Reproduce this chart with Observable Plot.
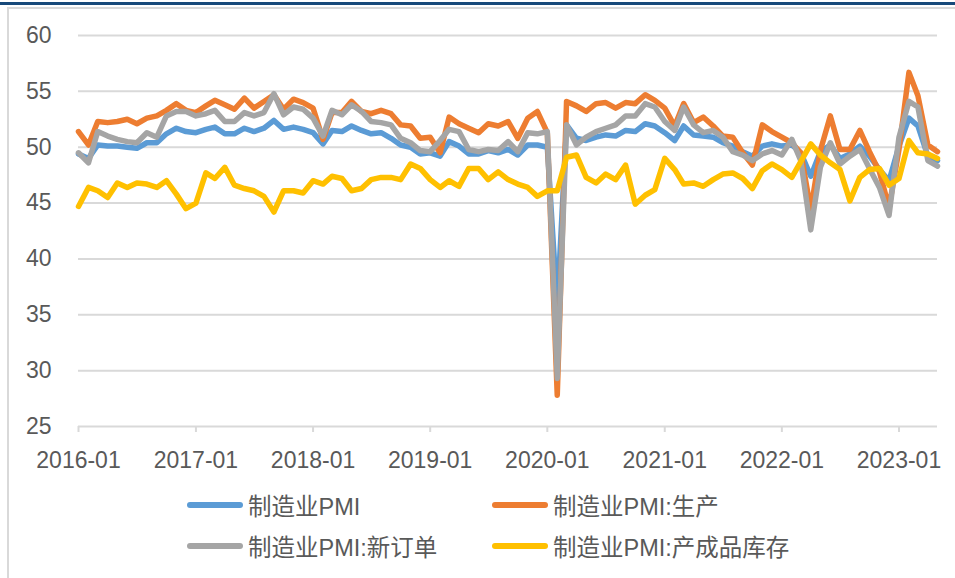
<!DOCTYPE html>
<html>
<head>
<meta charset="utf-8">
<script src="https://cdn.jsdelivr.net/npm/d3@7"></script>
<script src="https://cdn.jsdelivr.net/npm/@observablehq/plot@0.6"></script>
<style>
  html, body { margin: 0; padding: 0; background: #fff; }
  #wrap { position: relative; width: 955px; height: 578px; overflow: hidden; background: #fff;
          font-family: "Liberation Sans", Arial, "Noto Sans CJK SC", sans-serif; }
  #topbar { position: absolute; left: 0; top: 2px; width: 955px; height: 3px; background: #17497a; }
  #frame { position: absolute; left: 7px; top: 7px; width: 970px; height: 600px;
           border-left: 2px solid #d9d9d9; border-top: 2px solid #d9d9d9; }
  #chart { position: absolute; left: 0; top: 0; }
  .lg { position: absolute; display: flex; align-items: center; font-size: 23.5px; color: #595959;
        font-family: "Liberation Sans", Arial, "Noto Sans CJK SC", sans-serif; white-space: nowrap; }
  .sw { width: 56px; height: 6px; border-radius: 3px; margin-right: 5px; }
</style>
</head>
<body>
<div id="wrap">
  <div id="topbar"></div>
  <div id="frame"></div>
  <div id="chart"></div>
  <div id="legend"></div>
</div>
<script>
// Series names
const seriesNames = ["制造业PMI", "制造业PMI:生产", "制造业PMI:新订单", "制造业PMI:产成品库存"];
const seriesColors = ["#5b9bd5", "#ed7d31", "#a5a5a5", "#ffc000"];

// Monthly values, 2016-01 .. 2023-05
const pmi = [
  49.4, 49.0, 50.2, 50.1, 50.1, 50.0, 49.9, 50.4, 50.4, 51.2, 51.7, 51.4,
  51.3, 51.6, 51.8, 51.2, 51.2, 51.7, 51.4, 51.7, 52.4, 51.6, 51.8, 51.6,
  51.3, 50.3, 51.5, 51.4, 51.9, 51.5, 51.2, 51.3, 50.8, 50.2, 50.0, 49.4,
  49.5, 49.2, 50.5, 50.1, 49.4, 49.4, 49.7, 49.5, 49.8, 49.3, 50.2, 50.2,
  50.0, 35.7, 52.0, 50.8, 50.6, 50.9, 51.1, 51.0, 51.5, 51.4, 52.1, 51.9,
  51.3, 50.6, 51.9, 51.1, 51.0, 50.9, 50.4, 50.1, 49.6, 49.2, 50.1, 50.3,
  50.1, 50.2, 49.5, 47.4, 49.6, 50.2, 49.0, 49.4, 50.1, 49.2, 48.0, 47.0,
  50.1, 52.6, 51.9, 49.2, 48.8
];
const production = [
  51.4, 50.2, 52.3, 52.2, 52.3, 52.5, 52.1, 52.6, 52.8, 53.3, 53.9, 53.3,
  53.1, 53.7, 54.2, 53.8, 53.4, 54.4, 53.5, 54.1, 54.7, 53.4, 54.3, 54.0,
  53.5, 50.7, 53.1, 53.1, 54.1, 53.2, 53.0, 53.3, 53.0, 52.0, 51.9, 50.8,
  50.9, 49.5, 52.7, 52.1, 51.7, 51.3, 52.1, 51.9, 52.3, 50.8, 52.6, 53.2,
  51.3, 27.8, 54.1, 53.7, 53.2, 53.9, 54.0, 53.5, 54.0, 53.9, 54.7, 54.2,
  53.5, 51.9, 53.9, 52.2, 52.7, 51.9, 51.0, 50.9, 49.5, 48.4, 52.0, 51.4,
  50.9, 50.4, 49.5, 44.4, 49.7, 52.8, 49.8, 49.8, 51.5, 49.6, 47.8, 44.6,
  49.8, 56.7, 54.6, 50.2, 49.6
];
const newOrders = [
  49.5, 48.6, 51.4, 51.0, 50.7, 50.5, 50.4, 51.3, 50.9, 52.8, 53.2, 53.2,
  52.8, 53.0, 53.3, 52.3, 52.3, 53.1, 52.8, 53.1, 54.8, 52.9, 53.6, 53.4,
  52.6, 51.0, 53.3, 52.9, 53.8, 53.2, 52.3, 52.2, 52.0, 50.8, 50.4, 49.7,
  49.6, 50.6, 51.6, 51.4, 49.8, 49.6, 49.8, 49.7, 50.5, 49.6, 51.3, 51.2,
  51.4, 29.3, 52.0, 50.2, 50.9, 51.4, 51.7, 52.0, 52.8, 52.8, 53.9, 53.6,
  52.3, 51.5, 53.6, 52.0, 51.3, 51.5, 50.9, 49.6, 49.3, 48.8, 49.4, 49.7,
  49.3, 50.7, 48.8, 42.6, 48.2, 50.4, 48.5, 49.2, 49.8, 48.1, 46.4, 43.9,
  50.9, 54.1, 53.6, 48.8, 48.3
];
const inventory = [
  44.7, 46.4, 46.1, 45.5, 46.8, 46.4, 46.8, 46.7, 46.4, 47.0, 45.8, 44.5,
  45.0, 47.7, 47.2, 48.2, 46.6, 46.3, 46.1, 45.6, 44.2, 46.1, 46.1, 45.9,
  47.0, 46.7, 47.4, 47.2, 46.1, 46.3, 47.1, 47.3, 47.3, 47.1, 48.5, 48.1,
  47.1, 46.4, 47.0, 46.5, 48.1, 48.1, 47.1, 47.8, 47.1, 46.7, 46.4, 45.6,
  46.1, 46.1, 49.1, 49.3, 47.3, 46.8, 47.6, 47.1, 48.4, 44.9, 45.7, 46.2,
  49.0, 48.0, 46.7, 46.8, 46.5, 47.1, 47.6, 47.7, 47.2, 46.3, 47.9, 48.5,
  48.0, 47.3, 48.7, 50.3, 49.3, 48.6, 48.0, 45.2, 47.3, 48.0, 48.1, 46.6,
  47.2, 50.6, 49.5, 49.4, 49.0
];

// Axis ticks
const yTicks = [25, 30, 35, 40, 45, 50, 55, 60];
const xTickLabels = ["2016-01", "2017-01", "2018-01", "2019-01", "2020-01", "2021-01", "2022-01", "2023-01"];

const start = new Date(Date.UTC(2016, 0, 1));
const months = d3.utcMonth.range(start, d3.utcMonth.offset(start, pmi.length));
const xTicks = xTickLabels.map(s => new Date(s + "-01T00:00:00Z"));
const allSeries = [pmi, production, newOrders, inventory];
const rows = allSeries.map(vals => vals.map((v, i) => ({date: months[i], value: v})));

const chart = Plot.plot({
  width: 955,
  height: 480,
  marginLeft: 78,
  marginRight: 18,
  marginTop: 35,
  marginBottom: 54,
  style: {fontSize: "23px", fontFamily: "'Liberation Sans', Arial, sans-serif", color: "#595959", background: "transparent", overflow: "visible"},
  x: {type: "utc", domain: [months[0], months[months.length - 1]]},
  y: {domain: [25, 60]},
  marks: [
    Plot.gridY(yTicks, {stroke: "#d9d9d9", strokeWidth: 2, strokeOpacity: 1}),
    Plot.axisY(yTicks, {tickSize: 0, tickPadding: 27, fill: "#595959", label: null, tickFormat: d => String(d)}),
    Plot.axisX(xTicks, {tickSize: 6, tickPadding: 19, stroke: "#d9d9d9", strokeWidth: 2, fill: "#595959", label: null, tickFormat: d3.utcFormat("%Y-%m")}),
    ...rows.map((r, k) => Plot.line(r, {x: "date", y: "value", stroke: seriesColors[k], strokeWidth: 5.5, strokeLinejoin: "round", strokeLinecap: "round"}))
  ]
});
document.getElementById("chart").appendChild(chart);

// Legend
const legendPos = [[187, 506], [492, 506], [187, 547], [492, 547]];
const legend = document.getElementById("legend");
seriesNames.forEach((name, k) => {
  const item = document.createElement("div");
  item.className = "lg";
  item.style.left = legendPos[k][0] + "px";
  item.style.top = (legendPos[k][1] - 15) + "px";
  item.style.height = "28px";
  const sw = document.createElement("div");
  sw.className = "sw";
  sw.style.background = seriesColors[k];
  const tx = document.createElement("span");
  tx.textContent = name;
  item.appendChild(sw);
  item.appendChild(tx);
  legend.appendChild(item);
});
</script>
</body>
</html>
